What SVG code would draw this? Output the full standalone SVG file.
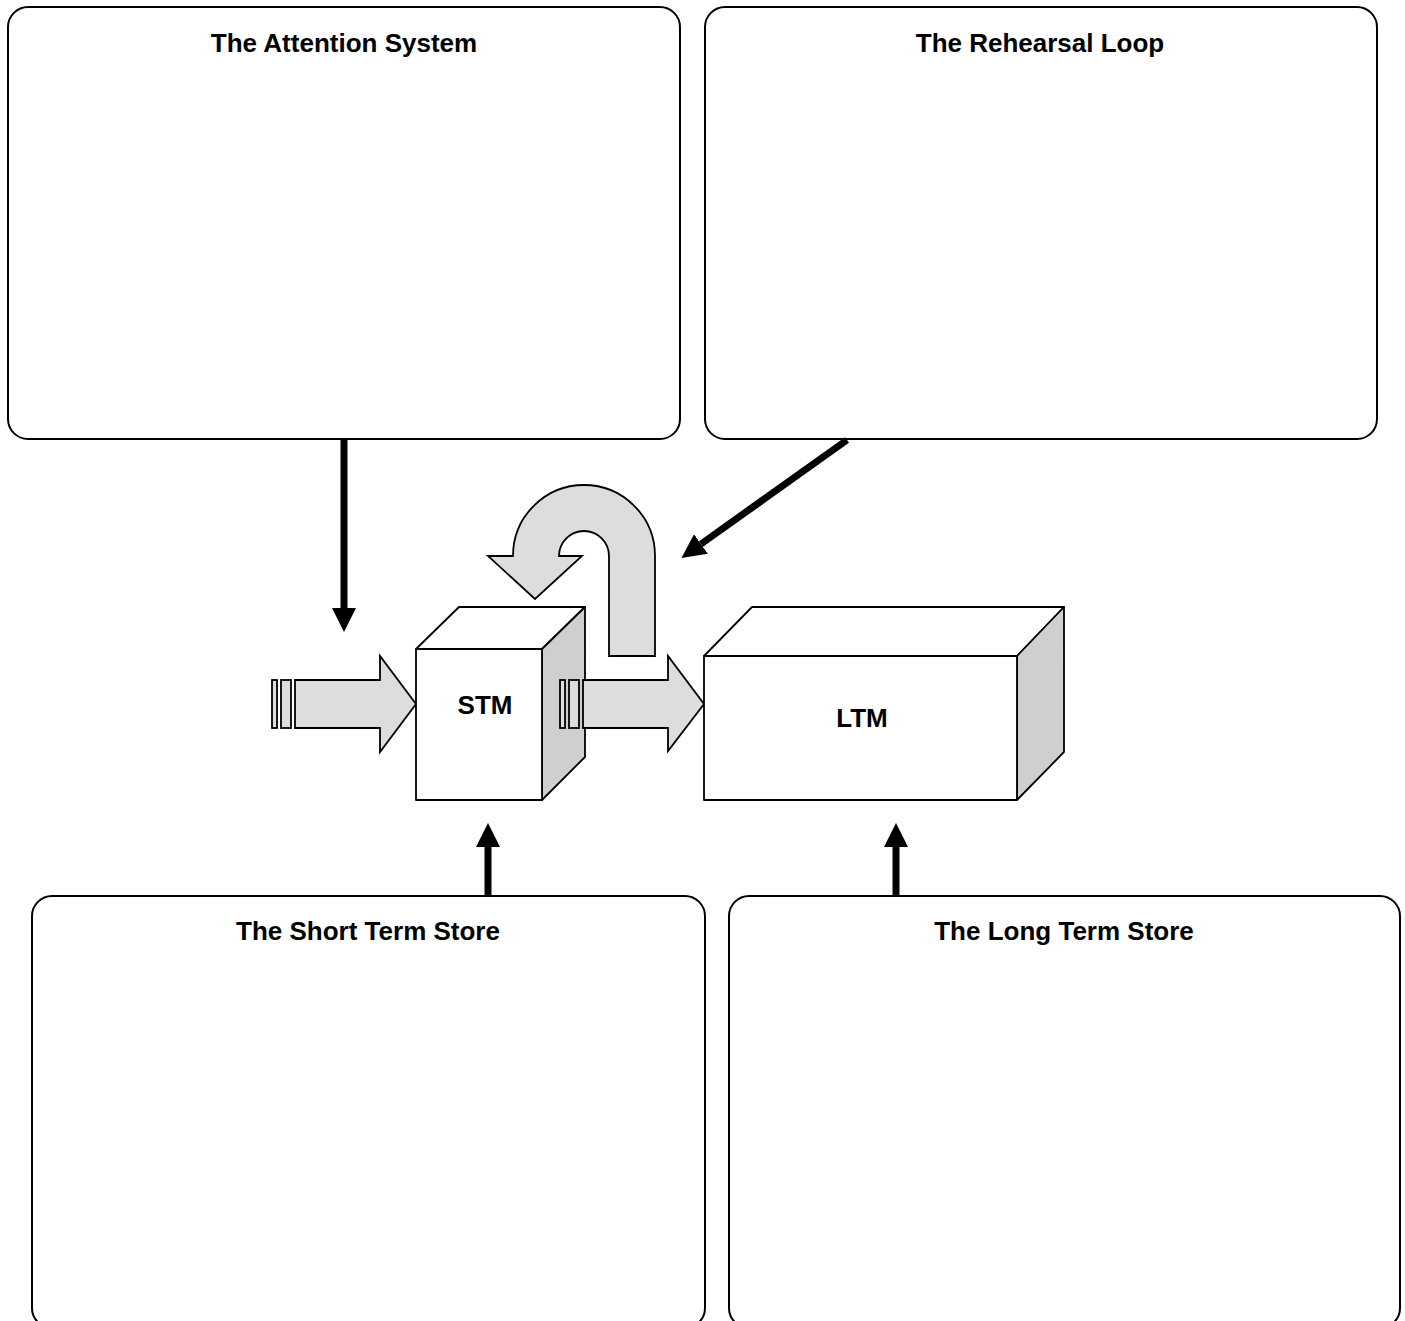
<svg xmlns="http://www.w3.org/2000/svg" width="1405" height="1321" viewBox="0 0 1405 1321">
<style>
.box{fill:#fff;stroke:#000;stroke-width:2}
.title{font-family:"Liberation Sans",Arial,sans-serif;font-weight:bold;font-size:26px;text-anchor:middle;fill:#000}
.face{fill:#fff;stroke:#000;stroke-width:1.8;stroke-linejoin:round}
.side{fill:#cfcfcf;stroke:#000;stroke-width:1.8;stroke-linejoin:round}
.block{fill:#dddddd;stroke:#000;stroke-width:1.8;stroke-linejoin:miter}
.conn{stroke:#000;stroke-width:7;fill:none}
</style>
<defs>
<marker id="ah" viewBox="0 0 24 24" refX="0" refY="12" markerWidth="24" markerHeight="24" markerUnits="userSpaceOnUse" orient="auto">
<path d="M0 0 L24 12 L0 24 Z" fill="#000"/>
</marker>
</defs>
<g id="attention">
<rect class="box" x="8" y="7" width="672" height="432" rx="20"/>
<text class="title" x="344" y="52">The Attention System</text>
</g>
<g id="rehearsal">
<rect class="box" x="705" y="7" width="672" height="432" rx="20"/>
<text class="title" x="1040" y="52">The Rehearsal Loop</text>
</g>
<g id="shortterm">
<rect class="box" x="32" y="896" width="673" height="432" rx="20"/>
<text class="title" x="368" y="940">The Short Term Store</text>
</g>
<g id="longterm">
<rect class="box" x="729" y="896" width="671" height="432" rx="20"/>
<text class="title" x="1064" y="940">The Long Term Store</text>
</g>
<g id="input-arrow">
<rect class="block" x="272" y="680" width="5" height="48"/>
<rect class="block" x="281" y="680" width="10" height="48"/>
<path class="block" d="M295 680 L380 680 L380 656 L416 704 L380 752 L380 728 L295 728 Z"/>
</g>
<g id="stm">
<path class="face" d="M416 649 L459 607 L585 607 L542 649 Z"/>
<path class="side" d="M542 649 L585 607 L585 757 L542 800 Z"/>
<rect class="face" x="416" y="649" width="126" height="151"/>
<text class="title" x="485" y="714">STM</text>
</g>
<g id="transfer-arrow">
<rect class="block" x="560" y="680" width="5" height="48"/>
<rect class="block" x="569" y="680" width="10" height="48"/>
<path class="block" d="M583 680 L668 680 L668 656 L704 704 L668 751 L668 728 L583 728 Z"/>
</g>
<g id="ltm">
<path class="face" d="M704 656 L752 607 L1064 607 L1017 656 Z"/>
<path class="side" d="M1017 656 L1064 607 L1064 752 L1017 800 Z"/>
<rect class="face" x="704" y="656" width="313" height="144"/>
<text class="title" x="862" y="727">LTM</text>
</g>
<g id="loop-arrow">
<path class="block" d="M609 656 L655 656 L655 556 A71 71 0 0 0 513 556 L488 556 L535 599 L582 556 L559 556 A25 25 0 0 1 609 556 Z"/>
</g>
<g id="connectors">
<line class="conn" x1="344" y1="439" x2="344" y2="608" marker-end="url(#ah)"/>
<line class="conn" x1="847" y1="440" x2="701" y2="544" marker-end="url(#ah)"/>
<line class="conn" x1="488" y1="896" x2="488" y2="847" marker-end="url(#ah)"/>
<line class="conn" x1="896" y1="896" x2="896" y2="847" marker-end="url(#ah)"/>
</g>
</svg>
